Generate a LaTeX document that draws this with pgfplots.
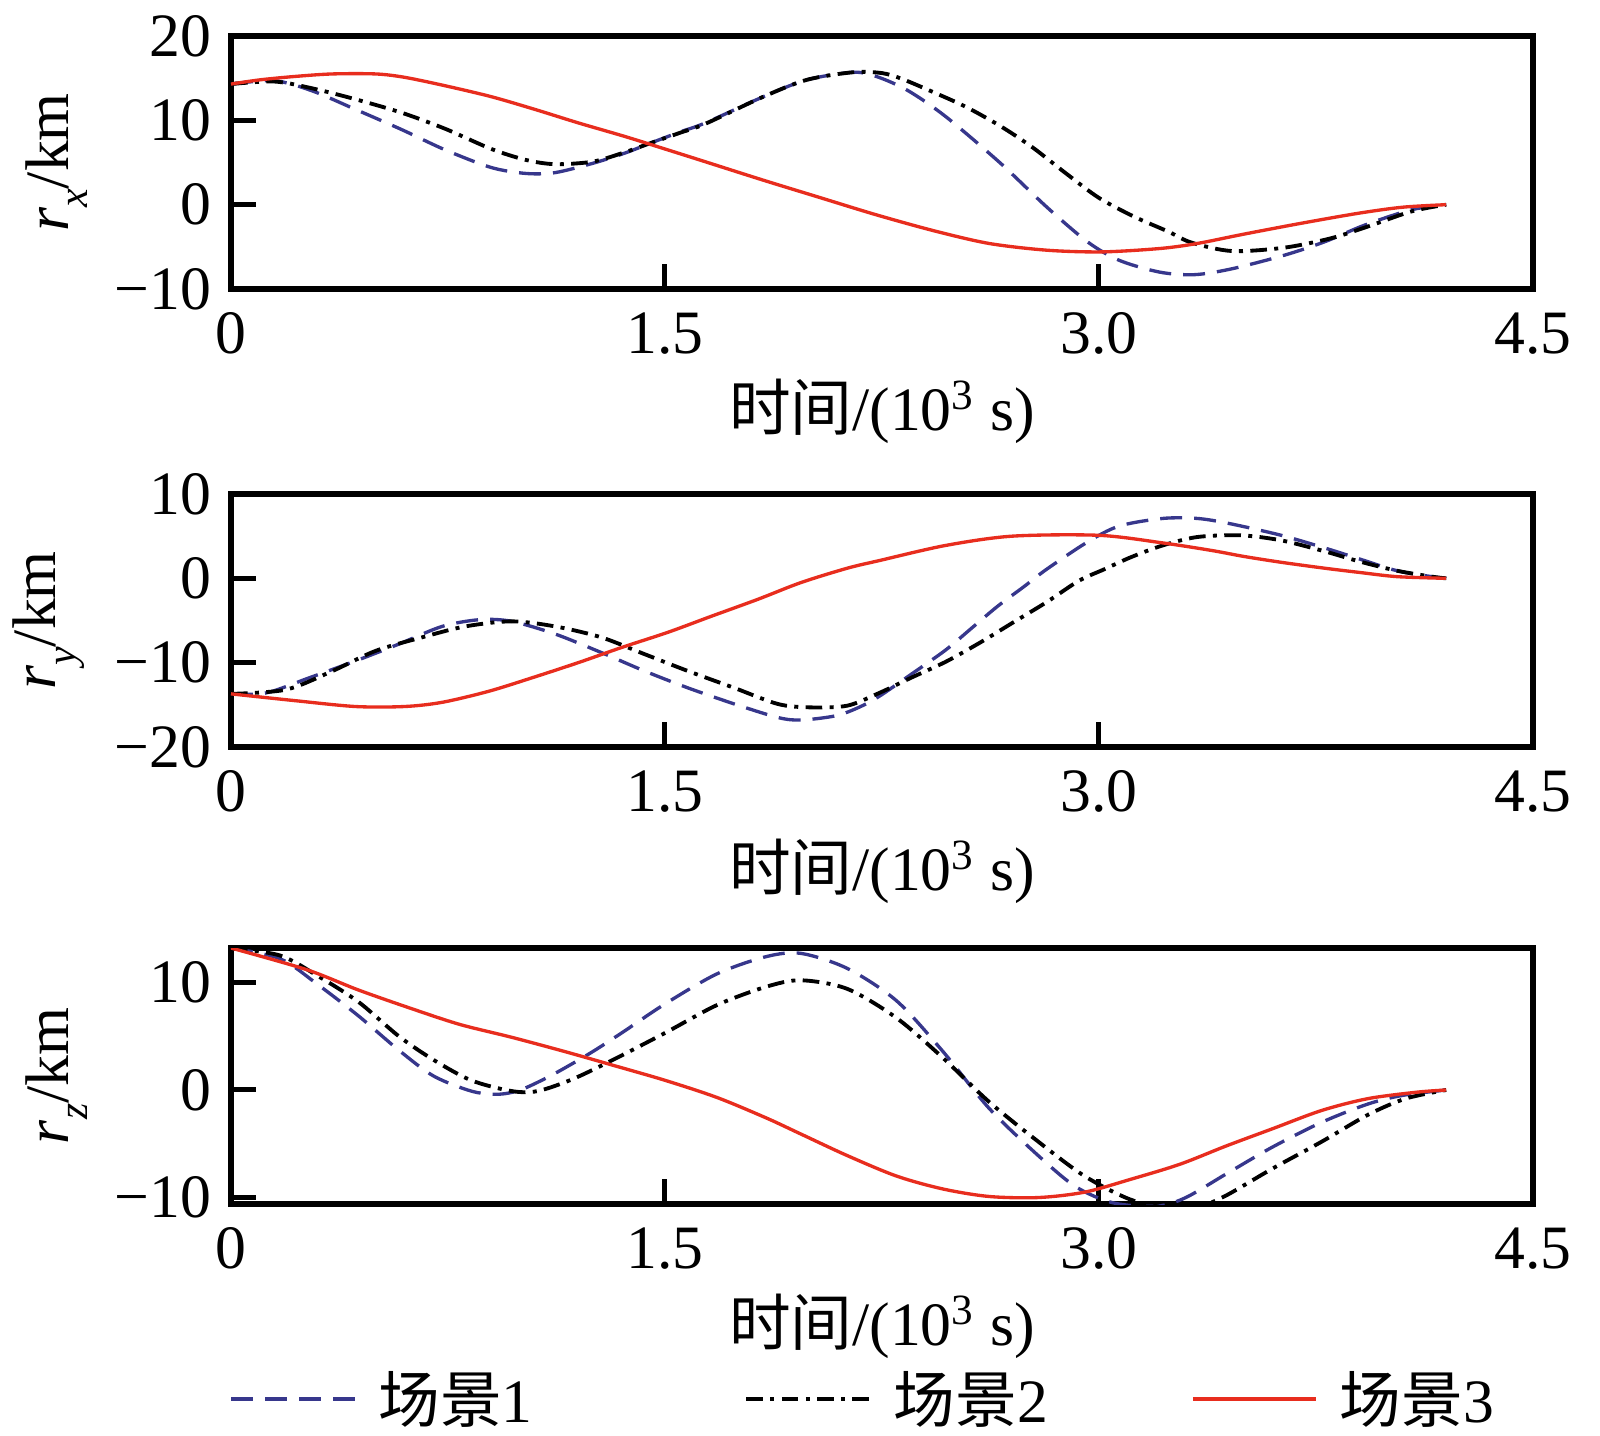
\documentclass[border=0pt]{standalone}
\usepackage{fontspec}
\setmainfont{Liberation Serif}
\newfontfamily\cjk{Noto Sans CJK SC}
\usepackage{pgfplots}
\pgfplotsset{compat=1.18}
\definecolor{c1}{RGB}{55,55,140}
\definecolor{c3}{RGB}{232,45,30}
\newcommand\fs{\fontsize{18.5}{22}\selectfont}
\newcommand\sub[1]{\raisebox{-0.7ex}{\fontsize{12.5}{13}\selectfont\textit{#1}}}
\pgfplotsset{
  myax/.style={
    scale only axis, width=390.6pt, xmin=0, xmax=4.5,
    xtick={0,1.5,3,4.5}, xticklabels={0,1.5,3.0,4.5},
    tick pos=left, tick align=inside, major tick length=7.5pt,
    axis line style={line width=1.6pt},
    major tick style={line width=1.5pt, black},
    tick label style={font=\fs, inner sep=0pt},
    xticklabel style={yshift=-6.9pt},
    yticklabel style={xshift=-5.7pt},
    label style={font=\fs},
    xlabel={{\cjk 时间}/(10\textsuperscript{3} s)},
    every axis plot/.append style={line width=1pt, smooth},
  },
  s1/.style={color=c1, line width=1pt, dash pattern=on 6.6pt off 3.6pt},
  s2/.style={color=black, line width=1.15pt, dash pattern=on 5pt off 2.2pt on 1.2pt off 2.2pt},
  s3/.style={color=c3, line width=1pt, solid},
}
\begin{document}
\begin{tikzpicture}
\path[use as bounding box] (0pt,0pt) rectangle (480pt,-430.8pt);
% Panel 1
\begin{axis}[myax, at={(69.3pt,-86.7pt)}, anchor=south west, height=75.9pt,
  ymin=-10, ymax=20, ytick={-10,0,10,20}, yticklabels={−10,0,10,20},
  ylabel={\textit{r}\sub{x}/km},
  ylabel style={at={(axis description cs:-0.134,0.5)}, anchor=center},
  xlabel style={at={(axis description cs:0.5,-0.482)}, anchor=center}]
\addplot[s1] coordinates {(0,14.3)(0.15,14.7)(0.28,13.5)(0.43,11.3)(0.59,8.9)(0.74,6.5)(0.9,4.4)(1.02,3.7)(1.12,3.8)(1.25,4.9)(1.36,6.1)(1.45,7.3)(1.55,8.6)(1.64,9.7)(1.84,12.8)(1.99,14.8)(2.15,15.7)(2.23,15.2)(2.32,13.9)(2.40,12.2)(2.49,9.9)(2.66,4.9)(2.82,-0.3)(2.96,-4.4)(3.07,-6.6)(3.21,-8.0)(3.33,-8.3)(3.46,-7.6)(3.64,-6.0)(3.78,-4.4)(3.92,-2.4)(4.08,-0.6)(4.2,0)};
\addplot[s2] coordinates {(0,14.3)(0.15,14.6)(0.28,13.8)(0.43,12.5)(0.59,10.9)(0.74,9.0)(0.9,6.6)(1.02,5.3)(1.12,4.8)(1.25,5.1)(1.36,6.2)(1.45,7.3)(1.55,8.5)(1.64,9.6)(1.84,12.8)(1.99,14.8)(2.15,15.7)(2.25,15.6)(2.32,14.9)(2.43,13.3)(2.54,11.6)(2.66,9.3)(2.77,6.8)(2.89,3.6)(3.0,0.8)(3.12,-1.4)(3.24,-3.2)(3.32,-4.5)(3.46,-5.5)(3.64,-5.1)(3.8,-4.0)(3.92,-2.7)(4.08,-0.8)(4.2,0)};
\addplot[s3] coordinates {(0,14.3)(0.1,14.8)(0.22,15.2)(0.35,15.5)(0.5,15.5)(0.6,15.1)(0.74,14.1)(0.9,12.8)(1.05,11.3)(1.2,9.7)(1.36,8.1)(1.5,6.6)(1.62,5.3)(1.84,2.9)(2.03,0.9)(2.23,-1.2)(2.43,-3.1)(2.62,-4.6)(2.82,-5.4)(3.01,-5.6)(3.21,-5.2)(3.34,-4.6)(3.5,-3.5)(3.7,-2.2)(3.9,-1.0)(4.05,-0.3)(4.2,0)};
\end{axis}
% Panel 2
\begin{axis}[myax, at={(69.3pt,-224.1pt)}, anchor=south west, height=75.9pt,
  ymin=-20, ymax=10, ytick={-20,-10,0,10}, yticklabels={−20,−10,0,10},
  ylabel={\textit{r}\sub{y}/km},
  ylabel style={at={(axis description cs:-0.14,0.5)}, anchor=center},
  xlabel style={at={(axis description cs:0.5,-0.49)}, anchor=center}]
\addplot[s1] coordinates {(0,-13.7)(0.12,-13.6)(0.27,-11.8)(0.43,-9.8)(0.58,-7.8)(0.73,-5.7)(0.86,-4.9)(0.97,-5.1)(1.12,-6.6)(1.28,-8.8)(1.43,-11.0)(1.58,-13.0)(1.74,-14.9)(1.89,-16.5)(1.97,-16.8)(2.09,-16.3)(2.17,-15.3)(2.24,-14.0)(2.35,-11.4)(2.47,-8.5)(2.56,-5.9)(2.65,-3.3)(2.74,-1.0)(2.82,1.1)(2.96,4.3)(3.07,6.2)(3.22,7.1)(3.34,7.1)(3.45,6.5)(3.63,5.1)(3.78,3.6)(3.9,2.3)(4.03,0.9)(4.15,0.2)(4.2,0)};
\addplot[s2] coordinates {(0,-13.7)(0.19,-13.2)(0.35,-11.0)(0.5,-8.6)(0.66,-7.0)(0.81,-5.7)(0.97,-5.1)(1.12,-5.7)(1.28,-7.0)(1.43,-9.0)(1.58,-11.0)(1.74,-13.0)(1.89,-14.9)(2.0,-15.3)(2.13,-15.1)(2.24,-13.6)(2.35,-11.8)(2.47,-9.9)(2.59,-7.6)(2.70,-5.3)(2.82,-2.8)(2.93,-0.3)(3.02,1.1)(3.11,2.5)(3.22,3.9)(3.34,4.9)(3.49,5.1)(3.63,4.5)(3.78,3.2)(3.9,2.0)(4.03,0.9)(4.15,0.2)(4.2,0)};
\addplot[s3] coordinates {(0,-13.7)(0.22,-14.5)(0.43,-15.2)(0.6,-15.2)(0.73,-14.7)(0.89,-13.4)(1.04,-11.8)(1.2,-10.0)(1.35,-8.2)(1.51,-6.4)(1.66,-4.5)(1.82,-2.5)(1.97,-0.5)(2.13,1.2)(2.24,2.1)(2.47,3.9)(2.70,5.0)(3.0,5.1)(3.22,4.2)(3.39,3.3)(3.5,2.6)(3.63,1.9)(3.78,1.2)(3.9,0.7)(4.03,0.2)(4.2,0)};
\end{axis}
% Panel 3
\begin{axis}[myax, at={(69.3pt,-361.2pt)}, anchor=south west, height=76.8pt,
  ymin=-10.6, ymax=13.2, ytick={-10,0,10}, yticklabels={−10,0,10},
  ylabel={\textit{r}\sub{z}/km},
  ylabel style={at={(axis description cs:-0.134,0.5)}, anchor=center},
  xlabel style={at={(axis description cs:0.5,-0.477)}, anchor=center},
  legend style={at={(axis description cs:-0.001,-0.762)}, anchor=west, draw=none, fill=none,
    inner sep=0pt, outer sep=0pt, font=\fs, nodes={inner sep=0pt},
    /tikz/every odd column/.append style={column sep=6.6pt},
    /tikz/every even column/.append style={column sep=0pt}},
  legend columns=3, legend cell align=left,
  legend image code/.code={\draw[#1] (0pt,0pt) -- (37pt,0pt);}]
\addplot[s1] coordinates {(0,13.2)(0.17,12.2)(0.3,9.8)(0.44,6.9)(0.58,3.7)(0.7,1.3)(0.83,-0.1)(0.92,-0.4)(1.0,0.0)(1.11,1.4)(1.24,3.4)(1.35,5.3)(1.5,8.0)(1.68,10.8)(1.85,12.4)(1.97,12.7)(2.13,11.3)(2.30,8.3)(2.46,3.6)(2.62,-1.7)(2.79,-6.1)(2.92,-9.0)(3.05,-10.5)(3.2,-10.8)(3.3,-10.0)(3.44,-7.8)(3.6,-5.3)(3.77,-3.0)(3.93,-1.3)(4.05,-0.5)(4.2,0)};
\addlegendentry{{\cjk 场景}1\kern63.6pt\relax}
\addplot[s2] coordinates {(0,13.2)(0.17,12.5)(0.3,10.6)(0.44,8.2)(0.58,5.0)(0.7,2.8)(0.83,0.9)(0.97,-0.1)(1.06,-0.1)(1.18,1.0)(1.32,2.8)(1.5,5.3)(1.68,7.9)(1.85,9.6)(1.97,10.2)(2.13,9.4)(2.30,6.7)(2.46,3.0)(2.62,-1.1)(2.79,-4.8)(2.95,-8.0)(3.11,-10.2)(3.25,-11.0)(3.35,-10.8)(3.44,-9.8)(3.6,-7.3)(3.77,-4.8)(3.93,-2.3)(4.06,-0.8)(4.2,0)};
\addlegendentry{{\cjk 场景}2\kern43pt\relax}
\addplot[s3] coordinates {(0,13.2)(0.26,11.2)(0.44,9.3)(0.62,7.6)(0.79,6.1)(0.97,4.9)(1.15,3.6)(1.32,2.3)(1.5,0.9)(1.68,-0.7)(1.85,-2.6)(1.97,-4.1)(2.13,-6.1)(2.30,-8.0)(2.46,-9.2)(2.62,-9.9)(2.79,-10.0)(2.95,-9.5)(3.11,-8.3)(3.28,-6.9)(3.44,-5.2)(3.6,-3.6)(3.77,-1.9)(3.93,-0.8)(4.1,-0.2)(4.2,0)};
\addlegendentry{{\cjk 场景}3}
\end{axis}
\end{tikzpicture}
\end{document}
